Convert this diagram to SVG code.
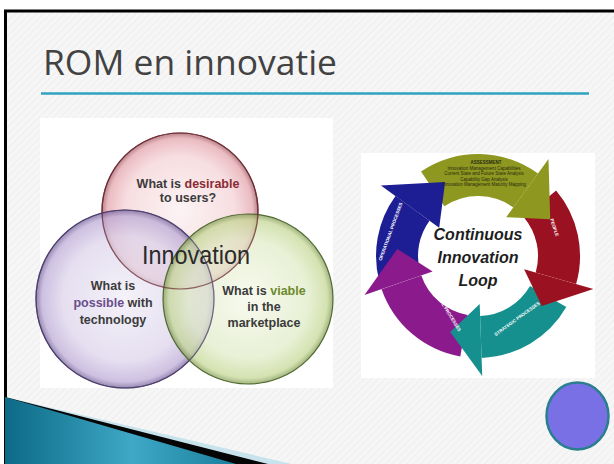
<svg xmlns="http://www.w3.org/2000/svg" width="614" height="464" viewBox="0 0 614 464">
<defs>
<pattern id="hatch" width="5" height="5" patternUnits="userSpaceOnUse" patternTransform="rotate(45)">
<rect width="5" height="5" fill="#f6f6f6"/>
<line x1="0" y1="0" x2="0" y2="5" stroke="#ececec" stroke-width="1.5"/>
</pattern>
<radialGradient id="gPink" cx="0.5" cy="0.5" r="0.5">
<stop offset="0" stop-color="#fbeef0"/><stop offset="0.7" stop-color="#f3d0d4"/><stop offset="0.93" stop-color="#e2a0a8"/><stop offset="1" stop-color="#9c4f5a"/>
</radialGradient>
<radialGradient id="gPurple" cx="0.5" cy="0.5" r="0.5">
<stop offset="0" stop-color="#f0ecf6"/><stop offset="0.7" stop-color="#dad1ea"/><stop offset="0.93" stop-color="#b8a6d4"/><stop offset="1" stop-color="#6a5892"/>
</radialGradient>
<radialGradient id="gGreen" cx="0.5" cy="0.5" r="0.5">
<stop offset="0" stop-color="#f3f8e8"/><stop offset="0.7" stop-color="#dfeac4"/><stop offset="0.93" stop-color="#c2d690"/><stop offset="1" stop-color="#7a944a"/>
</radialGradient>
<linearGradient id="gTeal" x1="0" y1="0" x2="1" y2="0">
<stop offset="0" stop-color="#0c6a86"/><stop offset="0.55" stop-color="#3ea8c6"/><stop offset="1" stop-color="#1a7f9c"/>
</linearGradient>
<style>
.venn{font-family:"Liberation Sans",Arial,sans-serif;font-weight:bold;font-size:12.5px;fill:#3b3b3b;text-anchor:middle}
.loop{font-family:"Liberation Sans",Arial,sans-serif;font-weight:bold;font-style:italic;font-size:16px;fill:#1e1e1e;text-anchor:middle}
.tiny{font-family:"Liberation Sans",Arial,sans-serif;font-size:4.5px;text-anchor:middle}
.bub{fill-opacity:0.7;stroke-width:1.2}
</style>
</defs>

<!-- background -->
<rect x="0" y="0" width="614" height="464" fill="#ffffff"/>
<rect x="5" y="11" width="609" height="453" fill="url(#hatch)"/>
<line x1="4" y1="11" x2="614" y2="11" stroke="#000" stroke-width="3"/>
<line x1="5.5" y1="10" x2="5.5" y2="464" stroke="#000" stroke-width="3"/>

<!-- title -->
<g id="title">
<text x="43" y="75" font-family="'Open Sans','Liberation Sans',sans-serif" font-size="34" fill="#424242" textLength="294" lengthAdjust="spacingAndGlyphs">ROM en innovatie</text>
<line x1="41" y1="93.5" x2="589" y2="93.5" stroke="#2fa2bf" stroke-width="2.5"/>
</g>

<!-- Venn picture -->
<g id="venn">
<rect x="40" y="118" width="293" height="270" fill="#ffffff"/>
<g id="circle-desirable"><circle class="bub" cx="180" cy="211" r="78" fill="url(#gPink)" stroke="#6e2c35"/></g>
<g id="circle-possible"><circle class="bub" cx="125" cy="299" r="89" fill="url(#gPurple)" stroke="#4e3f6e"/></g>
<g id="circle-viable"><circle class="bub" cx="248" cy="299" r="85" fill="url(#gGreen)" stroke="#4f6a30"/></g>
<g fill="none" stroke-width="1.2" stroke-opacity="0.7">
<circle cx="180" cy="211" r="78" stroke="#6e2c35"/>
<circle cx="125" cy="299" r="89" stroke="#4e3f6e"/>
</g>
<text class="venn" x="188" y="188">What is <tspan fill="#8a2a33">desirable</tspan></text>
<text class="venn" x="188" y="202">to users?</text>
<text x="196" y="264" font-family="'Liberation Sans',Arial,sans-serif" font-size="25" fill="#2a2a2a" text-anchor="middle" textLength="108" lengthAdjust="spacingAndGlyphs">Innovation</text>
<text class="venn" x="113" y="290">What is</text>
<text class="venn" x="113" y="307"><tspan fill="#6a4f8c">possible</tspan> with</text>
<text class="venn" x="113" y="324">technology</text>
<text class="venn" x="264" y="295">What is <tspan fill="#6d8a2c">viable</tspan></text>
<text class="venn" x="264" y="311">in the</text>
<text class="venn" x="264" y="327">marketplace</text>
</g>

<!-- Continuous innovation loop picture -->
<g id="loop-picture">
<rect x="361" y="153" width="234" height="225" fill="#ffffff"/>
<g id="arrow-bodies">
<path d="M379.5,282.4 A102,102 0 0,1 395.5,196.0 L429.5,220.7 A60,60 0 0,0 420.0,271.5 Z" fill="#1d1d94"/>
<path d="M421.0,171.4 A102,102 0 0,1 538.0,173.5 L513.3,207.5 A60,60 0 0,0 444.4,206.3 Z" fill="#8e9720"/>
<path d="M556.1,190.4 A102,102 0 0,1 576.1,284.1 L535.7,272.5 A60,60 0 0,0 524.0,217.4 Z" fill="#9a1222"/>
<path d="M566.3,307.0 A102,102 0 0,1 481.6,357.9 L480.1,316.0 A60,60 0 0,0 530.0,286.0 Z" fill="#16908f"/>
<path d="M460.3,356.4 A102,102 0 0,1 381.6,289.2 L421.3,275.5 A60,60 0 0,0 467.6,315.1 Z" fill="#8b1a8c"/>
</g>
<g id="arrow-heads">
<polygon points="380.9,185.5 445.1,182.0 439.2,227.8" fill="#1d1d94"/>
<polygon points="548.5,158.9 550.2,219.2 506.2,217.2" fill="#8e9720"/>
<polygon points="593.4,289.1 541.8,305.9 524.1,269.2" fill="#9a1222"/>
<polygon points="482.2,375.9 450.3,332.1 479.7,304.0" fill="#16908f"/>
<polygon points="364.5,295.1 397.3,248.9 432.6,271.6" fill="#8b1a8c"/>
</g>
<g fill="#2a2a10">
<text class="tiny" x="486" y="164" font-weight="bold">ASSESSMENT</text>
<text class="tiny" x="484" y="169.5">Innovation Management Capabilities</text>
<text class="tiny" x="484" y="175">Current State and Future State Analysis</text>
<text class="tiny" x="484" y="180.5">Capability Gap Analysis</text>
<text class="tiny" x="484" y="186">Innovation Management Maturity Mapping</text>
</g>
<g fill="#ffffff">
<text class="tiny" font-weight="bold" transform="translate(553,228) rotate(72)">PEOPLE</text>
<text class="tiny" font-weight="bold" transform="translate(518,320) rotate(-36)">STRATEGIC PROCESSES</text>
<text class="tiny" font-weight="bold" transform="translate(445,310) rotate(58)">TACTICAL PROCESSES</text>
<text class="tiny" font-weight="bold" transform="translate(392,232) rotate(-70)">OPERATIONAL PROCESSES</text>
</g>
<text class="loop" x="478" y="240">Continuous</text>
<text class="loop" x="478" y="263">Innovation</text>
<text class="loop" x="478" y="286">Loop</text>
</g>

<!-- bottom-left decoration -->
<g id="corner-decoration">
<polygon points="5,397 292,464 5,464" fill="#c7e3ec"/>
<polygon points="5,397 268,464 5,464" fill="#050505"/>
<polygon points="5,397 236,464 5,464" fill="url(#gTeal)"/>
</g>

<!-- bottom-right ellipse -->
<g id="blue-ellipse">
<ellipse cx="577.5" cy="416" rx="31" ry="33.5" fill="#7a70e6" stroke="#2a7f8f" stroke-width="2.5"/>
</g>
</svg>
